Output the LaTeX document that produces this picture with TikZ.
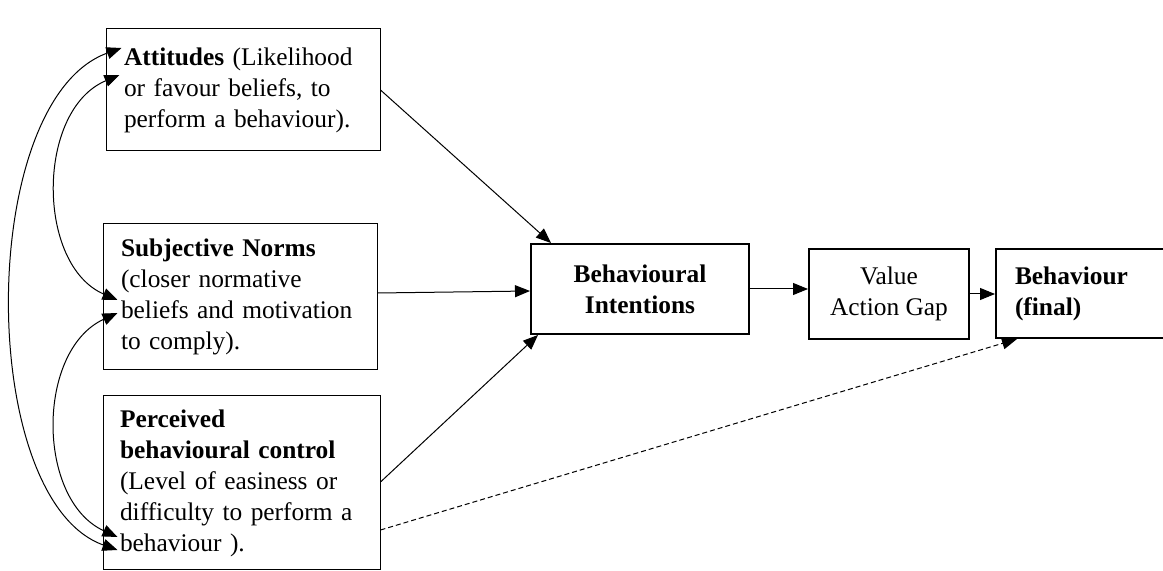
\documentclass[tikz,border=0pt]{standalone}
\usepackage{fontspec}
\setmainfont{Liberation Serif}
\usetikzlibrary{arrows.meta,calc}
\begin{document}
\begin{tikzpicture}[x=0.5pt,y=-0.5pt,
  font=\fontsize{12.7}{15.5}\selectfont,
  factor/.style={draw, line width=0.5pt, rectangle, align=left, inner ysep=0pt},
  stage/.style={draw, line width=1pt, rectangle, inner ysep=0pt},
  tip/.tip={Triangle[length=7.5pt,width=6pt]},
  arr/.style={-tip, line width=0.5pt},
  link/.style={tip-tip, line width=0.5pt}]
\useasboundingbox (0,0) rectangle (1163,571);

% the three determinants
\node[factor, minimum width=137pt, minimum height=61pt, text width=119pt, inner xsep=9pt] (att) at (243,90)
  {\textbf{Attitudes} (Likelihood\\or favour beliefs, to\\perform a behaviour).};
\node[factor, minimum width=137pt, minimum height=73pt, text width=119pt, inner xsep=9pt] (sn) at (240,297)
  {\textbf{Subjective Norms}\\(closer normative\\beliefs and motivation\\to comply).};
\node[factor, minimum width=138.5pt, minimum height=87pt, text width=121.5pt, inner xsep=8.5pt] (pbc) at (241.5,483)
  {\textbf{Perceived}\\\textbf{behavioural control}\\(Level of easiness or\\difficulty to perform a\\behaviour ).};

% intention, gap and behaviour
\node[stage, minimum width=109pt, minimum height=45pt, align=center, font=\fontsize{12.7}{15.5}\selectfont\bfseries] (bi) at (640,289)
  {Behavioural\\Intentions};
\node[stage, minimum width=80pt, minimum height=45pt, align=center] (vag) at (889,294)
  {Value\\Action Gap};
\node[stage, minimum width=89.5pt, minimum height=44.5pt, text width=70.5pt, inner xsep=9.5pt, align=left, font=\fontsize{12.7}{15.5}\selectfont\bfseries] (beh) at (1085.5,293.5)
  {Behaviour\\(final)};

% main paths
\draw[arr] (att.east) -- ([xshift=10.5pt]bi.north west);
\draw[arr] ([yshift=2pt]sn.east) -- ([yshift=-1pt]bi.west);
\draw[arr] ([yshift=0.5pt]pbc.east) -- ([xshift=4pt]bi.south west);
\draw[arr] (bi.east) -- (bi.east -| vag.west);
\draw[arr] (vag.east) -- (vag.east -| beh.west);
\draw[arr, dash pattern=on 2.5pt off 1.5pt] ([yshift=-23.5pt]pbc.east) -- ([xshift=11pt]beh.south west);

% correlations between the determinants
\draw[link] ($(att.west)+(16,-42)$) .. controls (-24,100) and (-24,500) .. ($(pbc.west)+(15,67)$);
\draw[link] ($(att.west)+(14,-15)$) .. controls (36,110) and (36,265) .. ($(sn.west)+(15,3)$);
\draw[link] ($(sn.west)+(15,16)$) .. controls (36,350) and (36,500) .. ($(pbc.west)+(15,54)$);
\end{tikzpicture}
\end{document}
